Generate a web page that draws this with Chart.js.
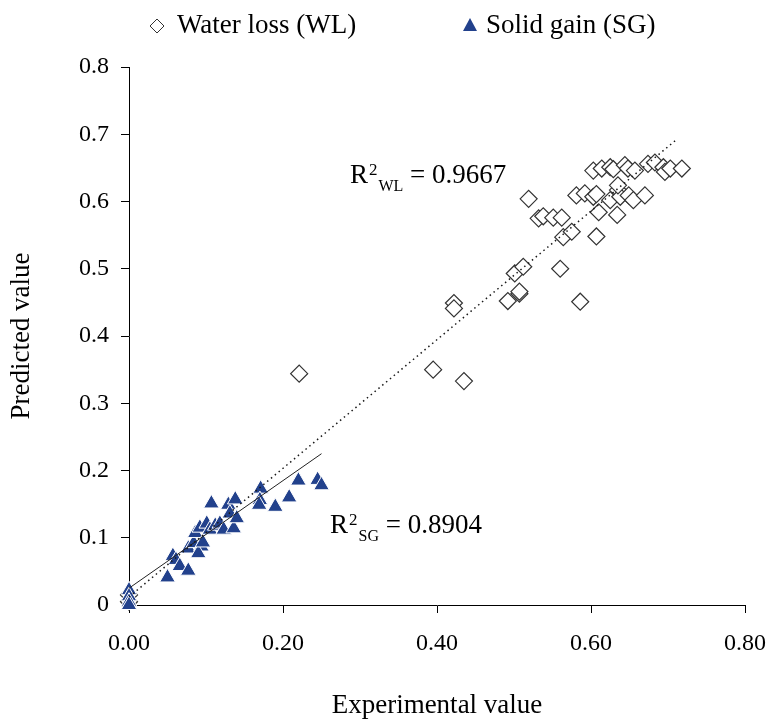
<!DOCTYPE html>
<html>
<head>
<meta charset="utf-8">
<title>Predicted vs experimental</title>
<script src="https://cdn.jsdelivr.net/npm/chart.js@4.4.1/dist/chart.umd.min.js"></script>
<style>
  html, body { margin: 0; padding: 0; background: #ffffff; }
</style>
</head>
<body>
<canvas id="chart" width="771" height="719"></canvas>
<script>
// Water loss (WL) points: experimental (x) vs predicted (y)
const wlX = [0.000, 0.000, 0.221, 0.395, 0.435, 0.422, 0.422, 0.492, 0.507, 0.507,
             0.560, 0.586, 0.501, 0.512, 0.519, 0.532, 0.538, 0.551, 0.562, 0.564,
             0.575, 0.607, 0.581, 0.592, 0.603, 0.607, 0.610, 0.634, 0.625, 0.635,
             0.638, 0.649, 0.655, 0.670, 0.635, 0.603, 0.614, 0.625, 0.629, 0.644,
             0.648, 0.657, 0.674, 0.683, 0.694, 0.696, 0.703, 0.718];
const wlY = [0.005, 0.015, 0.344, 0.350, 0.333, 0.449, 0.441, 0.452, 0.463, 0.466,
             0.500, 0.451, 0.493, 0.503, 0.604, 0.575, 0.578, 0.576, 0.576, 0.547,
             0.555, 0.548, 0.609, 0.612, 0.607, 0.611, 0.584, 0.580, 0.602, 0.617,
             0.607, 0.609, 0.602, 0.609, 0.624, 0.646, 0.649, 0.651, 0.648, 0.654,
             0.649, 0.646, 0.656, 0.658, 0.651, 0.644, 0.649, 0.649];

// Solid gain (SG) points
const sgX = [0.000, 0.000, 0.000, 0.000, 0.050, 0.057, 0.061, 0.066, 0.077, 0.077,
             0.084, 0.086, 0.092, 0.101, 0.094, 0.090, 0.096, 0.105, 0.112, 0.107,
             0.118, 0.123, 0.129, 0.138, 0.131, 0.136, 0.140, 0.171, 0.170, 0.169,
             0.190, 0.208, 0.220, 0.245, 0.250];
const sgY = [0.022, 0.013, 0.005, 0.000, 0.041, 0.073, 0.067, 0.058, 0.051, 0.084,
             0.092, 0.107, 0.115, 0.121, 0.087, 0.077, 0.093, 0.112, 0.118, 0.151,
             0.121, 0.112, 0.149, 0.157, 0.136, 0.114, 0.129, 0.173, 0.156, 0.149,
             0.146, 0.160, 0.185, 0.186, 0.178];

// linear trend lines (end points)
const wlTrendX = [0, 0.711];
const wlTrendY = [0.012, 0.692];
const sgTrendX = [0, 0.25];
const sgTrendY = [0.025, 0.225];

const seriesNames = ['Water loss (WL)', 'Solid gain (SG)'];
const r2Values = ['0.9667', '0.8904'];
const xTickLabels = ['0.00', '0.20', '0.40', '0.60', '0.80'];
const yTickLabels = ['0', '0.1', '0.2', '0.3', '0.4', '0.5', '0.6', '0.7', '0.8'];

const SERIF = "'Liberation Serif', 'Times New Roman', serif";
const NAVY = '#22418c';

const toPoints = (xs, ys) => xs.map((x, i) => ({ x: x, y: ys[i] }));

// legend and R² labels drawn on top of the chart
const labelsPlugin = {
  id: 'labels',
  afterDraw(chart) {
    const ctx = chart.ctx;
    const xs = chart.scales.x;
    const ys = chart.scales.y;
    ctx.save();
    ctx.fillStyle = '#000';
    ctx.textBaseline = 'alphabetic';
    ctx.textAlign = 'left';

    // legend
    ctx.font = '27px ' + SERIF;
    ctx.beginPath();
    ctx.moveTo(150, 26); ctx.lineTo(157, 19); ctx.lineTo(164, 26); ctx.lineTo(157, 33);
    ctx.closePath();
    ctx.fillStyle = '#fff'; ctx.fill();
    ctx.strokeStyle = '#333'; ctx.lineWidth = 1; ctx.stroke();
    ctx.fillStyle = '#000';
    ctx.fillText(seriesNames[0], 177, 33);

    ctx.beginPath();
    ctx.moveTo(470, 18); ctx.lineTo(477, 31); ctx.lineTo(463, 31);
    ctx.closePath();
    ctx.fillStyle = NAVY; ctx.fill();
    ctx.fillStyle = '#000';
    ctx.fillText(seriesNames[1], 486, 33);

    // R² annotations, anchored in data units
    const notes = [
      { sub: 'WL', value: r2Values[0], x: 0.287, y: 0.627 },
      { sub: 'SG', value: r2Values[1], x: 0.261, y: 0.107 }
    ];
    notes.forEach(n => {
      let px = xs.getPixelForValue(n.x);
      const py = ys.getPixelForValue(n.y);
      ctx.font = '27px ' + SERIF;
      ctx.fillText('R', px, py);
      px += ctx.measureText('R').width + 1;
      ctx.font = '17px ' + SERIF;
      ctx.fillText('2', px, py - 8);
      px += ctx.measureText('2').width + 1;
      ctx.font = '16px ' + SERIF;
      ctx.fillText(n.sub, px, py + 8);
      px += ctx.measureText(n.sub).width;
      ctx.font = '27px ' + SERIF;
      ctx.fillText(' = ' + n.value, px, py);
    });
    ctx.restore();
  }
};

new Chart(document.getElementById('chart'), {
  type: 'scatter',
  data: {
    datasets: [
      {
        label: 'WL trend',
        data: toPoints(wlTrendX, wlTrendY),
        showLine: true,
        borderColor: '#1a1a1a',
        borderWidth: 1.5,
        borderDash: [1.5, 3.5],
        pointRadius: 0,
        fill: false
      },
      {
        label: 'SG trend',
        data: toPoints(sgTrendX, sgTrendY),
        showLine: true,
        borderColor: '#222',
        borderWidth: 1,
        pointRadius: 0,
        fill: false
      },
      {
        label: seriesNames[1],
        data: toPoints(sgX, sgY),
        pointStyle: 'triangle',
        pointRadius: 9,
        backgroundColor: NAVY,
        borderColor: '#ffffff',
        borderWidth: 1,
        clip: false
      },
      {
        label: seriesNames[0],
        data: toPoints(wlX, wlY),
        pointStyle: 'rectRot',
        pointRadius: 8.5,
        backgroundColor: '#ffffff',
        borderColor: '#333333',
        borderWidth: 1.2,
        clip: false
      }
    ]
  },
  options: {
    responsive: false,
    animation: false,
    events: [],
    layout: { padding: { top: 67, right: 0, left: 0, bottom: 0 } },
    plugins: {
      legend: { display: false },
      tooltip: { enabled: false }
    },
    scales: {
      x: {
        type: 'linear',
        min: 0,
        max: 0.8,
        afterFit: (s) => { s.height = 114; s.paddingLeft = 0; s.paddingRight = 26; },
        ticks: {
          stepSize: 0.2,
          padding: 16,
          color: '#000',
          font: { family: SERIF, size: 24 },
          callback: (v, i) => xTickLabels[i]
        },
        grid: { drawOnChartArea: false, drawTicks: true, tickLength: 8, color: '#000' },
        border: { color: '#000', width: 1 },
        title: {
          display: true,
          text: 'Experimental value',
          color: '#000',
          font: { family: SERIF, size: 27, lineHeight: 1 },
          padding: { top: 0, bottom: 0 }
        }
      },
      y: {
        type: 'linear',
        min: 0,
        max: 0.8,
        afterFit: (s) => { s.width = 129; },
        ticks: {
          stepSize: 0.1,
          padding: 12,
          color: '#000',
          font: { family: SERIF, size: 24 },
          callback: (v, i) => yTickLabels[i]
        },
        grid: { drawOnChartArea: false, drawTicks: true, tickLength: 8, color: '#000' },
        border: { color: '#000', width: 1 },
        title: {
          display: true,
          text: 'Predicted value',
          color: '#000',
          font: { family: SERIF, size: 27, lineHeight: 1 },
          padding: { top: 8, bottom: 0 }
        }
      }
    }
  },
  plugins: [labelsPlugin]
});
</script>
</body>
</html>
